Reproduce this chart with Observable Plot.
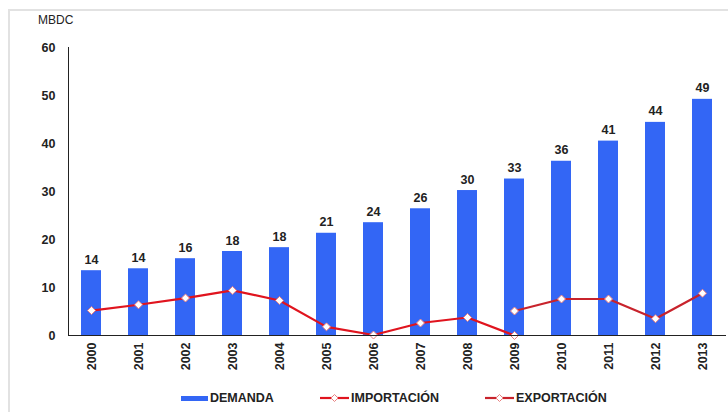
<!DOCTYPE html>
<html>
<head>
<meta charset="utf-8">
<script src="https://cdn.jsdelivr.net/npm/d3@7"></script>
<script src="https://cdn.jsdelivr.net/npm/@observablehq/plot@0.6"></script>
<style>
  html, body { margin: 0; padding: 0; background: #fff; }
  #wrap { position: relative; width: 728px; height: 412px; overflow: hidden; font-family: "Liberation Sans", Arial, sans-serif; }
  #frame { position: absolute; left: 8px; top: 9px; width: 760px; height: 440px; border-top: 2px solid #e2e2e2; border-left: 2px solid #e2e2e2; }
  #chart { position: absolute; left: 0; top: 0; }
  #unit { position: absolute; left: 38px; top: 13px; font-size: 12px; color: #222; }
  #legend { position: absolute; left: 0; top: 389px; width: 728px; height: 18px; font-size: 12.5px; font-weight: bold; color: #222; }
  .item { position: absolute; top: 0; display: flex; align-items: center; height: 18px; }
  .item svg { display: block; margin-right: 2px; }
</style>
</head>
<body>
<div id="wrap">
  <div id="frame"></div>
  <div id="chart"></div>
  <div id="unit">MBDC</div>
  <div id="legend"></div>
</div>
<script>
const years = ["2000","2001","2002","2003","2004","2005","2006","2007","2008","2009","2010","2011","2012","2013"];
const demanda = [13.5, 13.9, 16.0, 17.5, 18.3, 21.3, 23.5, 26.4, 30.2, 32.6, 36.3, 40.5, 44.4, 49.2];
const importYears = ["2000","2001","2002","2003","2004","2005","2006","2007","2008","2009"];
const importacion = [5.2, 6.4, 7.8, 9.4, 7.3, 1.8, 0.1, 2.6, 3.75, 0.0];
const exportYears = ["2009","2010","2011","2012","2013"];
const exportacion = [5.1, 7.6, 7.6, 3.5, 8.8];
const yTicks = [0, 10, 20, 30, 40, 50, 60];
const seriesNames = ["DEMANDA", "IMPORTACIÓN", "EXPORTACIÓN"];

const BLUE = "#3366f5";
const RED_IMP = "#e0141e";
const RED_EXP = "#c8232c";
const MARK_STROKE = "#e98080";

const barData = years.map((y, i) => ({year: y, value: demanda[i]}));
const impData = importYears.map((y, i) => ({year: y, value: importacion[i]}));
const expData = exportYears.map((y, i) => ({year: y, value: exportacion[i]}));

const chart = Plot.plot({
  width: 728,
  height: 380,
  marginLeft: 68,
  marginRight: 2,
  marginTop: 47,
  marginBottom: 45,
  style: {fontFamily: "'Liberation Sans', Arial, sans-serif", fontSize: "12px", color: "#222", background: "transparent"},
  x: {domain: years, paddingInner: 0.57, paddingOuter: 0.285, label: null},
  y: {domain: [0, 60], label: null},
  marks: [
    Plot.barY(barData, {x: "year", y: "value", fill: BLUE}),
    Plot.text(barData, {x: "year", y: "value", text: d => String(Math.round(d.value)), dy: -11, fontWeight: "bold", fontSize: 12.5, fill: "#222"}),
    Plot.line(impData, {x: "year", y: "value", stroke: RED_IMP, strokeWidth: 2.2}),
    Plot.line(expData, {x: "year", y: "value", stroke: RED_EXP, strokeWidth: 2.2}),
    Plot.dot(impData, {x: "year", y: "value", symbol: "diamond2", r: 3.6, fill: "white", stroke: MARK_STROKE, strokeWidth: 1}),
    Plot.dot(expData, {x: "year", y: "value", symbol: "diamond2", r: 3.6, fill: "white", stroke: MARK_STROKE, strokeWidth: 1}),
    Plot.axisY({ticks: yTicks, tickSize: 0, tickPadding: 13, fontWeight: "bold", fontSize: 12.5, label: null}),
    Plot.axisX({tickSize: 0, tickPadding: 7, tickRotate: -90, fontSize: 12.5, fontWeight: "bold", label: null}),
    Plot.frame({anchor: "left", stroke: "#222", strokeWidth: 1}),
    Plot.ruleY([0], {stroke: "#222", strokeWidth: 1})
  ]
});
document.getElementById("chart").appendChild(chart);

// HTML legend below the chart
const legend = document.getElementById("legend");
const positions = [181, 320, 485];
seriesNames.forEach((name, i) => {
  const item = document.createElement("div");
  item.className = "item";
  item.style.left = positions[i] + "px";
  let sw;
  if (i === 0) {
    sw = `<svg width="27" height="10"><rect x="0" y="3" width="27" height="5" fill="${BLUE}"/></svg>`;
  } else {
    const c = i === 1 ? RED_IMP : RED_EXP;
    sw = `<svg width="29" height="10"><line x1="0" y1="5" x2="29" y2="5" stroke="${c}" stroke-width="2.2"/><path d="M14.5,1.5 L18,5 L14.5,8.5 L11,5 Z" fill="white" stroke="${MARK_STROKE}" stroke-width="1"/></svg>`;
  }
  item.innerHTML = sw + `<span>${name}</span>`;
  legend.appendChild(item);
});
</script>
</body>
</html>
